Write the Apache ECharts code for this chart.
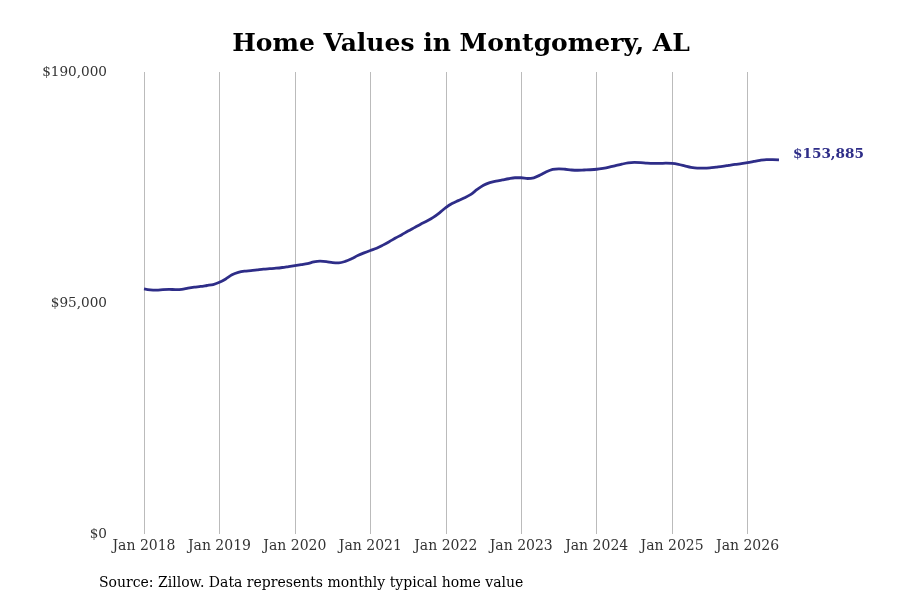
<!DOCTYPE html>
<html>
<head>
<meta charset="utf-8">
<title>Home Values in Montgomery, AL</title>
<script src="https://cdn.jsdelivr.net/npm/echarts@6/dist/echarts.min.js"></script>
<style>
  html, body { margin: 0; padding: 0; background: #fff; }
  #main { width: 900px; height: 600px; }
</style>
</head>
<body>
<div id="main"></div>
<script>
// typical home value by month, Jan 2018 - Jun 2026
var startYear = 2018;
var v2018 = [100800, 100400, 100300, 100500, 100600, 100500, 100600, 101100, 101500, 101800, 102200, 102600];
var v2019 = [103500, 104900, 106600, 107600, 108100, 108300, 108600, 108900, 109100, 109300, 109600, 110000];
var v2020 = [110400, 110800, 111200, 111900, 112200, 112000, 111600, 111500, 112100, 113200, 114500, 115600];
var v2021 = [116600, 117500, 118800, 120200, 121700, 123100, 124600, 126000, 127400, 128700, 130200, 132100];
var v2022 = [134200, 135900, 137100, 138300, 139700, 141700, 143400, 144500, 145100, 145600, 146100, 146500];
var v2023 = [146500, 146200, 146500, 147600, 149000, 150000, 150200, 150000, 149700, 149600, 149700, 149800];
var v2024 = [150000, 150400, 150900, 151500, 152100, 152600, 152800, 152700, 152500, 152400, 152400, 152500];
var v2025 = [152400, 152000, 151400, 150800, 150500, 150500, 150600, 150900, 151200, 151600, 152000, 152300];
var v2026 = [152700, 153200, 153700, 154000, 154000, 153885];

var values = [].concat(v2018, v2019, v2020, v2021, v2022, v2023, v2024, v2025, v2026);
var yTicks = [0, 95000, 190000];
var monthNames = ['Jan', 'Feb', 'Mar', 'Apr', 'May', 'Jun', 'Jul', 'Aug', 'Sep', 'Oct', 'Nov', 'Dec'];

var months = [];
for (var i = 0; i < values.length; i++) {
  months.push(monthNames[i % 12] + ' ' + (startYear + Math.floor(i / 12)));
}

var serif = 'DejaVu Serif';
var lineColor = '#2e2d88';

function money(v) {
  return '$' + v.toString().replace(/\B(?=(\d{3})+(?!\d))/g, ',');
}

var chart = echarts.init(document.getElementById('main'));
chart.setOption({
  backgroundColor: '#fff',
  animation: false,
  title: {
    text: 'Home Values in Montgomery, AL',
    left: 456,
    top: 27,
    textAlign: 'center',
    textStyle: { fontFamily: serif, fontWeight: 'bold', fontSize: 25, color: '#000' }
  },
  grid: { left: 144, right: 121, top: 72, bottom: 66 },
  xAxis: {
    type: 'category',
    data: months,
    boundaryGap: false,
    axisLine: { show: false },
    axisTick: { show: false },
    axisLabel: {
      interval: function (idx) { return idx % 12 === 0; },
      margin: 5,
      fontFamily: serif,
      fontSize: 14,
      color: '#333'
    },
    splitLine: {
      show: true,
      interval: function (idx) { return idx % 12 === 0; },
      lineStyle: { color: '#bbb', width: 1 }
    }
  },
  yAxis: {
    type: 'value',
    min: yTicks[0],
    max: yTicks[yTicks.length - 1],
    interval: yTicks[1] - yTicks[0],
    axisLine: { show: false },
    axisTick: { show: false },
    splitLine: { show: false },
    axisLabel: {
      margin: 37,
      padding: [4, 0, 0, 0],
      fontFamily: serif,
      fontSize: 13.6,
      color: '#333',
      formatter: money
    }
  },
  series: [{
    type: 'line',
    data: values,
    smooth: 0.3,
    symbol: 'none',
    lineStyle: { color: lineColor, width: 2.8 },
    endLabel: {
      show: true,
      distance: 14,
      offset: [0, -5],
      fontFamily: serif,
      fontWeight: 'bold',
      fontSize: 13.6,
      color: lineColor,
      formatter: function (p) { return money(p.value); }
    }
  }],
  graphic: [{
    type: 'text',
    left: 99,
    top: 576,
    style: {
      text: 'Source: Zillow. Data represents monthly typical home value',
      fontFamily: serif,
      fontSize: 14,
      fill: '#000'
    }
  }]
});
</script>
</body>
</html>
